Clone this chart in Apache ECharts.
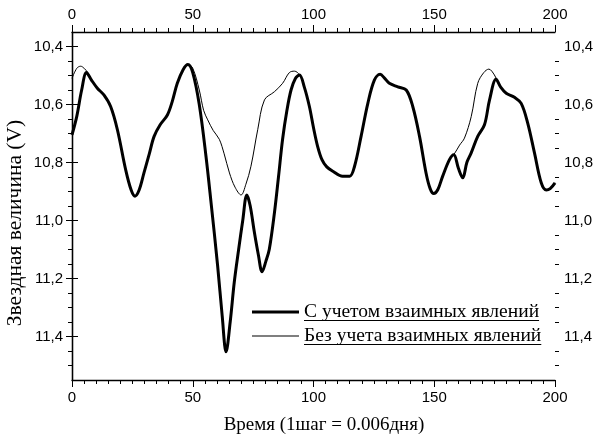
<!DOCTYPE html>
<html>
<head>
<meta charset="utf-8">
<script src="https://cdn.jsdelivr.net/npm/echarts@6/dist/echarts.min.js"></script>
<style>
  html, body { margin: 0; padding: 0; background: #fff; }
  #chart { width: 598px; height: 438px; }
</style>
</head>
<body>
<div id="chart"></div>
<script>
// Stellar magnitude over time, [step, magnitude]
const withMutual = [
  [0, 10.705], [2, 10.64], [4, 10.55], [6, 10.49], [8, 10.515], [10.5, 10.544],
  [13.2, 10.567], [16, 10.607], [18.8, 10.687], [22.2, 10.824], [24.5, 10.895],
  [26.1, 10.916], [27.8, 10.895], [29.8, 10.836], [32, 10.77], [34, 10.71],
  [36.5, 10.67], [39.5, 10.636], [41.5, 10.59], [43.6, 10.527], [46, 10.48],
  [48, 10.462], [50, 10.49], [52.7, 10.6], [55.5, 10.78], [57.6, 10.94],
  [60.3, 11.156], [62.2, 11.33], [63.8, 11.453], [65.5, 11.35], [67.2, 11.212],
  [69, 11.1], [70.7, 11.0], [72.4, 10.912], [73.8, 10.95], [75.5, 11.04],
  [77.2, 11.12], [78.7, 11.177], [80.3, 11.14], [81.7, 11.099], [83.8, 10.975],
  [85.5, 10.85], [87.2, 10.72], [89, 10.62], [90.7, 10.55], [92.5, 10.51],
  [94.2, 10.498], [96.2, 10.54], [98.3, 10.607], [100, 10.68], [101.7, 10.744],
  [103.5, 10.79], [105.5, 10.815], [108, 10.83], [112, 10.847], [115, 10.847],
  [117, 10.813], [119.7, 10.71], [122.5, 10.596], [125.2, 10.516], [127.6, 10.496],
  [129.5, 10.51], [131.4, 10.527], [134.9, 10.539], [138.4, 10.55], [141.1, 10.607],
  [143.9, 10.71], [146.6, 10.836], [148.3, 10.89], [149.8, 10.907], [151.5, 10.893],
  [153.5, 10.847], [156.3, 10.79], [158.1, 10.773], [160, 10.82], [161.8, 10.853],
  [163.5, 10.8], [165.3, 10.767], [168, 10.71], [170.8, 10.67], [172.9, 10.584],
  [175.6, 10.513], [177.5, 10.54], [179.8, 10.561], [183.2, 10.575], [186, 10.596],
  [188.7, 10.664], [191.5, 10.767], [194.3, 10.87], [196.4, 10.895], [198, 10.89],
  [200, 10.87]
];

const withoutMutual = [
  [0, 10.51], [2, 10.475], [3.6, 10.468], [5, 10.475], [6.5, 10.49], [8, 10.515],
  [10.5, 10.544], [13.2, 10.567], [16, 10.607], [18.8, 10.687], [22.2, 10.824],
  [24.5, 10.895], [26.1, 10.916], [27.8, 10.895], [29.8, 10.836], [32, 10.77],
  [34, 10.71], [36.5, 10.67], [39.5, 10.636], [41.5, 10.59], [43.6, 10.527],
  [46, 10.48], [48, 10.462], [50, 10.475], [52.7, 10.55], [54.5, 10.62],
  [56.2, 10.653], [58.5, 10.69], [61, 10.72], [63, 10.77], [65.2, 10.836],
  [67.5, 10.885], [70, 10.912], [72, 10.875], [74.1, 10.813], [76.9, 10.687],
  [79.7, 10.584], [83.8, 10.556], [87.2, 10.527], [90, 10.49], [92.1, 10.485],
  [94.2, 10.498], [96.2, 10.54], [98.3, 10.607], [100, 10.68], [101.7, 10.744],
  [103.5, 10.79], [105.5, 10.815], [108, 10.83], [112, 10.847], [115, 10.847],
  [117, 10.813], [119.7, 10.71], [122.5, 10.596], [125.2, 10.516], [127.6, 10.496],
  [129.5, 10.51], [131.4, 10.527], [134.9, 10.539], [138.4, 10.55], [141.1, 10.607],
  [143.9, 10.71], [146.6, 10.836], [148.3, 10.89], [149.8, 10.907], [151.5, 10.893],
  [153.5, 10.847], [156.3, 10.79], [158.1, 10.773], [160.5, 10.74], [162.5, 10.716],
  [165.3, 10.642], [168, 10.527], [170.5, 10.49], [172.6, 10.478], [174.9, 10.498],
  [176.5, 10.525], [177.5, 10.54], [179.8, 10.561], [183.2, 10.575], [186, 10.596],
  [188.7, 10.664], [191.5, 10.767], [194.3, 10.87], [196.4, 10.895], [198, 10.89],
  [200, 10.87]
];

const seriesNames = ['С учетом взаимных явлений', 'Без учета взаимных явлений'];
const xTitle = 'Время (1шаг = 0.006дня)';
const yTitle = 'Звездная величина (V)';
const yMajorTicks = [10.4, 10.6, 10.8, 11.0, 11.2, 11.4];
const yMinorTicks = [10.45, 10.5, 10.55, 10.65, 10.7, 10.75, 10.85, 10.9, 10.95,
  11.05, 11.1, 11.15, 11.25, 11.3, 11.35, 11.45, 11.5];

const SANS = '"Liberation Sans", Arial, sans-serif';
const SERIF = '"Liberation Serif", "Times New Roman", serif';
const LEGEND_FONT = 19.5;
const lineWidths = [3, 1];

const chart = echarts.init(document.getElementById('chart'), null, { renderer: 'canvas' });

const axisLine = { show: true, lineStyle: { color: '#000', width: 1.3 } };
const labelStyle = { color: '#000', fontFamily: SANS, fontSize: 15 };

function xAxisDef(position) {
  return {
    type: 'value', position: position, min: 0, max: 200, interval: 50,
    axisLine: axisLine,
    axisTick: { show: true, inside: false, length: 7, lineStyle: { color: '#000', width: 1 } },
    minorTick: { show: true, splitNumber: 10, length: 4, lineStyle: { color: '#000', width: 1 } },
    axisLabel: Object.assign({ margin: 10 }, labelStyle),
    splitLine: { show: false }, minorSplitLine: { show: false }
  };
}

function yMajorDef(position) {
  return {
    type: 'value', position: position, offset: 0, min: 10.35, max: 11.55, inverse: true,
    axisLine: axisLine,
    axisTick: { show: true, inside: false, length: 6, customValues: yMajorTicks,
      lineStyle: { color: '#000', width: 1 } },
    axisLabel: Object.assign({
      margin: 9, customValues: yMajorTicks,
      formatter: v => Number(v).toFixed(1).replace('.', ',')
    }, labelStyle),
    splitLine: { show: false }
  };
}

function yMinorDef(position) {
  return {
    type: 'value', position: position, offset: 0, min: 10.35, max: 11.55, inverse: true,
    axisLine: { show: false },
    axisTick: { show: true, inside: false, length: 4, customValues: yMinorTicks,
      lineStyle: { color: '#000', width: 1 } },
    axisLabel: { show: false },
    splitLine: { show: false }
  };
}

// legend rows: fixed row height, line-sample icons, underlined text
const legendLeft = 252, legendTop = 300, iconW = 47, rowH = 24;
const textLeft = legendLeft + iconW + 5;
const measureCtx = document.createElement('canvas').getContext('2d');
measureCtx.font = LEGEND_FONT + 'px ' + SERIF;
const underlines = seriesNames.map((name, i) => {
  const y = legendTop + rowH / 2 + i * rowH + 8.5;
  return {
    type: 'line',
    shape: { x1: textLeft, y1: y, x2: textLeft + measureCtx.measureText(name).width, y2: y },
    style: { stroke: '#000', lineWidth: 1 },
    silent: true
  };
});
const legendItems = seriesNames.map((name, i) => ({
  name: name,
  icon: 'path://M0,0 L' + iconW + ',0 L' + iconW + ',' + lineWidths[i] + ' L0,' + lineWidths[i] + ' Z'
}));

chart.setOption({
  animation: false,
  backgroundColor: '#fff',
  grid: { left: 72, right: 43, top: 32, bottom: 58, containLabel: false },
  xAxis: [xAxisDef('bottom'), xAxisDef('top')],
  yAxis: [yMajorDef('left'), yMajorDef('right'), yMinorDef('left'), yMinorDef('right')],
  legend: {
    orient: 'vertical', left: legendLeft, top: legendTop, padding: 0,
    itemWidth: iconW, itemHeight: 14, itemGap: 0, symbolKeepAspect: true,
    data: legendItems,
    itemStyle: { color: '#000', borderWidth: 0 },
    textStyle: { color: '#000', fontFamily: SERIF, fontSize: LEGEND_FONT,
      lineHeight: rowH, height: rowH, verticalAlign: 'middle' },
    selectedMode: false
  },
  graphic: underlines.concat([
    {
      type: 'text', x: 324, y: 425,
      style: { text: xTitle, fill: '#000', font: '19px ' + SERIF,
        align: 'center', verticalAlign: 'middle' }
    },
    {
      type: 'text', x: 15, y: 223, rotation: Math.PI / 2,
      style: { text: yTitle, fill: '#000', font: '21.5px ' + SERIF,
        align: 'center', verticalAlign: 'middle' }
    }
  ]),
  series: [
    {
      name: seriesNames[1], type: 'line', data: withoutMutual,
      xAxisIndex: 0, yAxisIndex: 0, symbol: 'none', smooth: 0.35,
      lineStyle: { color: '#000', width: lineWidths[1] }, itemStyle: { color: '#000' }, z: 2
    },
    {
      name: seriesNames[0], type: 'line', data: withMutual,
      xAxisIndex: 0, yAxisIndex: 0, symbol: 'none', smooth: 0.35,
      lineStyle: { color: '#000', width: lineWidths[0] }, itemStyle: { color: '#000' }, z: 3
    }
  ]
});
</script>
</body>
</html>
